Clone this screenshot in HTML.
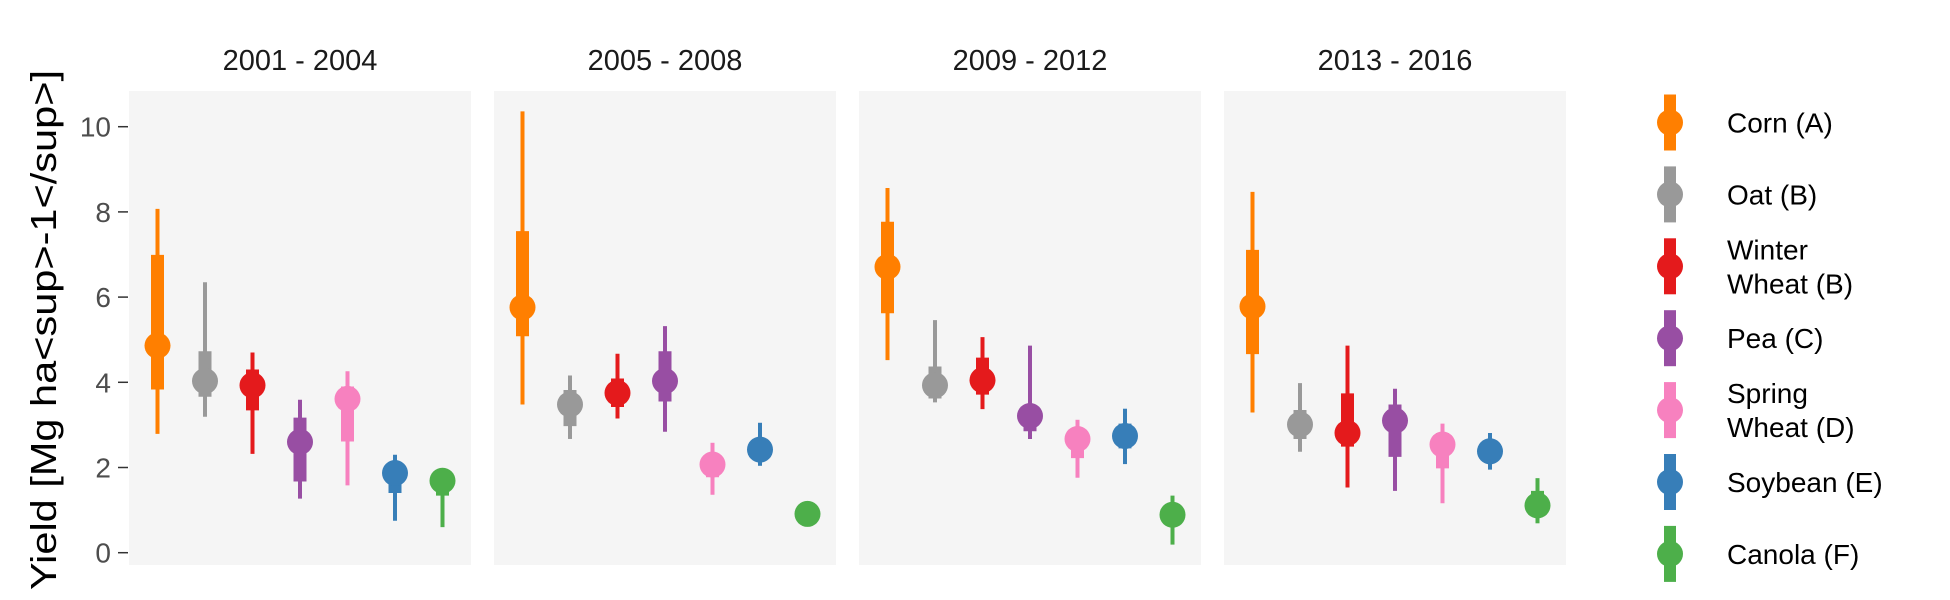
<!DOCTYPE html>
<html><head><meta charset="utf-8"><style>
body{margin:0;background:#fff;}
svg{display:block;font-family:"Liberation Sans",sans-serif;}
</style></head><body>
<svg id="chart" width="1950" height="600" viewBox="0 0 1950 600">
<text transform="translate(56,330) rotate(-90)" text-anchor="middle" font-size="36" fill="#000" textLength="520" lengthAdjust="spacingAndGlyphs">Yield [Mg ha&lt;sup&gt;-1&lt;/sup&gt;]</text>
</svg>
<script>
const periods=["2001 - 2004","2005 - 2008","2009 - 2012","2013 - 2016"];
const crops=["Corn (A)","Oat (B)","Winter Wheat (B)","Pea (C)","Spring Wheat (D)","Soybean (E)","Canola (F)"];
const colors=["#ff7f00","#999999","#e41a1c","#984ea3","#f781bf","#377eb8","#4daf4a"];
const yTicks=[0,2,4,6,8,10];
// per period: point estimates
const pts=[[4.86,4.03,3.93,2.60,3.61,1.87,1.69],[5.76,3.48,3.75,4.03,2.07,2.42,0.91],[6.71,3.93,4.05,3.21,2.67,2.74,0.89],[5.78,3.01,2.81,3.10,2.54,2.38,1.11]];
const thinLo=[[2.79,3.19,2.32,1.27,1.58,0.75,0.60],[3.48,2.67,3.15,2.84,1.36,2.04,0.70],[4.52,3.53,3.37,2.67,1.76,2.08,0.19],[3.29,2.37,1.53,1.45,1.16,1.95,0.69]];
const thinHi=[[8.07,6.35,4.70,3.59,4.26,2.30,1.90],[10.36,4.16,4.67,5.32,2.58,3.05,1.15],[8.56,5.46,5.06,4.86,3.12,3.38,1.34],[8.47,3.98,4.86,3.85,3.03,2.81,1.75]];
const thickLo=[[3.83,3.66,3.34,1.67,2.61,1.40,1.34],[5.08,2.97,3.42,3.55,1.77,2.18,0.80],[5.62,3.62,3.71,2.85,2.22,2.45,0.64],[4.66,2.67,2.49,2.25,1.98,2.18,0.87]];
const thickHi=[[6.99,4.73,4.30,3.17,3.90,2.07,1.90],[7.55,3.82,4.09,4.73,2.27,2.63,1.05],[7.77,4.37,4.58,3.44,2.90,3.03,1.14],[7.11,3.35,3.74,3.48,2.81,2.63,1.45]];

const NS="http://www.w3.org/2000/svg";
const svg=document.getElementById('chart');
const panelLeft0=129,panelStep=365,panelW=342,panelTop=91,panelBot=565;
function y(v){return 552.7-v*42.6;}
function x(p,i){return panelLeft0+p*panelStep+panelW*(i+0.6)/7.2;}
function mk(tag,attrs,parent){const e=document.createElementNS(NS,tag);for(const k in attrs)e.setAttribute(k,attrs[k]);(parent||svg).appendChild(e);return e;}

periods.forEach((per,p)=>{
  const g=mk('g',{});
  
  
  const bg=mk('rect',{x:panelLeft0+p*panelStep,y:panelTop,width:panelW,height:panelBot-panelTop,fill:'#f5f5f5'},g);
  
  
  const t=mk('text',{x:panelLeft0+p*panelStep+panelW/2,y:70,'text-anchor':'middle','font-size':'29',fill:'#1a1a1a'},g);
  t.textContent=per;
  
  
  crops.forEach((c,i)=>{
    const cx=x(p,i),col=colors[i];
    const l1=mk('line',{x1:cx,x2:cx,y1:y(thinLo[p][i]),y2:y(thinHi[p][i]),stroke:col,'stroke-width':4},g);
    
    
    const l2=mk('line',{x1:cx,x2:cx,y1:y(thickLo[p][i]),y2:y(thickHi[p][i]),stroke:col,'stroke-width':13},g);
    
    
    const d=mk('circle',{cx:cx,cy:y(pts[p][i]),r:13,fill:col},g);
    
    
  });
});
yTicks.forEach(v=>{
  const tl=mk('line',{x1:118,x2:128,y1:y(v),y2:y(v),stroke:'#333','stroke-width':1.5});
  
  
  const tt=mk('text',{x:111,y:y(v)+10,'text-anchor':'end','font-size':'28',fill:'#4d4d4d'});
  tt.textContent=v;
  
  
});
crops.forEach((c,i)=>{
  const cy=122.5+i*71.9;
  const g=mk('g',{});
  
  
  mk('rect',{x:1664,y:cy-28,width:12,height:56,fill:colors[i]},g);
  mk('circle',{cx:1670,cy:cy,r:13,fill:colors[i]},g);
  const parts=c.split(' ');
  let lines=[c];
  if(c.startsWith('Winter')||c.startsWith('Spring')) lines=[parts[0],parts.slice(1).join(' ')];
  lines.forEach((ln,k)=>{
    const t=mk('text',{x:1727,y:cy+10+(k-(lines.length-1)/2)*34,'font-size':'28',fill:'#000'},g);
    t.textContent=ln;
  });
});
</script>
</body></html>
